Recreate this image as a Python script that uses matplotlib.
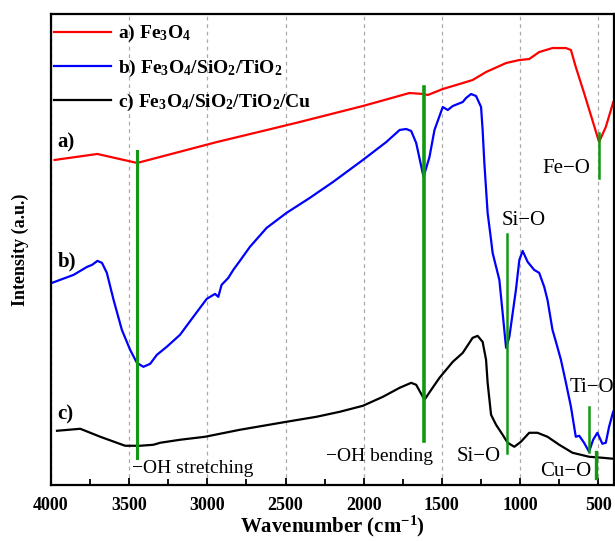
import numpy as np
import matplotlib
matplotlib.use('Agg')
import matplotlib.pyplot as plt

plt.rcParams['font.family'] = ['Liberation Serif', 'DejaVu Serif']
plt.rcParams['mathtext.fontset'] = 'custom'
plt.rcParams['mathtext.rm'] = 'Liberation Serif:bold'
plt.rcParams['mathtext.bf'] = 'Liberation Serif:bold'
plt.rcParams['mathtext.it'] = 'Liberation Serif:bold'
plt.rcParams['mathtext.default'] = 'bf'

# a) Fe3O4
wn_a = [3977, 3704, 3449, 2938, 2619, 2409, 2005, 1707, 1617, 1590, 1494, 1387, 1303, 1217,
        1089, 1004, 941, 877, 792, 706, 674, 643, 590, 537, 494, 451, 403]
int_a = [325, 331, 322, 343, 355, 363, 379, 392, 391, 390, 396, 401, 405, 413,
         422, 425, 426, 433, 437, 437, 435, 418, 392, 365, 343, 358, 383]

# b) Fe3O4/SiO2/TiO2
wn_b = [3994, 3856, 3770, 3738, 3703, 3674, 3643, 3600, 3547, 3494, 3451, 3409, 3366, 3323,
        3260, 3175, 3090, 3004, 2951, 2930, 2909, 2866, 2834, 2792, 2728, 2621, 2494, 2345,
        2196, 2005, 1855, 1770, 1728, 1696, 1664, 1617, 1579, 1547, 1494, 1462, 1430, 1366,
        1345, 1313, 1281, 1249, 1239, 1228, 1207, 1185, 1175, 1132, 1111, 1089, 1068, 1026,
        1004, 983, 951, 909, 877, 845, 824, 792, 770, 738, 706, 674, 643, 621, 590, 558,
        532, 505, 473, 451, 430, 404]
int_b = [202, 210, 218, 220, 224, 222, 212, 185, 155, 135, 122, 118, 121, 130,
         138, 150, 168, 186, 191, 188, 200, 207, 215, 224, 238, 257, 272, 287,
         303, 325, 343, 355, 356, 354, 342, 308, 328, 355, 378, 375, 379, 383,
         387, 391, 389, 378, 355, 322, 272, 245, 232, 205, 172, 137, 148, 195,
         225, 234, 223, 215, 212, 198, 185, 155, 143, 125, 102, 78, 48, 49, 42, 33,
         45, 52, 41, 42, 58, 73]

# c) Fe3O4/SiO2/TiO2/Cu
wn_c = [3962, 3813, 3685, 3526, 3430, 3345, 3302, 3175, 3015, 2792, 2494, 2302, 2153, 2005,
        1877, 1770, 1696, 1664, 1611, 1568, 1515, 1430, 1366, 1303, 1271, 1239, 1217, 1207,
        1185, 1153, 1111, 1079, 1036, 994, 941, 888, 824, 749, 664, 558, 473, 404]
int_c = [54, 56, 48, 39, 39, 40, 42, 45, 48, 55, 63, 68, 73, 79,
         88, 97, 102, 100, 85, 95, 107, 123, 132, 147, 149, 143, 125, 102,
         70, 60, 50, 42, 38, 43, 52, 52, 48, 40, 32, 28, 27, 26]

# green marker lines: position, y from, y to, width
mark_pos = [3451, 1617, 1083, 494, 556, 512]
mark_top = [334, 398, 251, 352, 78, 33]
mark_bot = [27, 44, 32, 307, 33, 7]
mark_lw = [2.2, 2.6, 1.8, 1.8, 1.8, 2.4]

fig = plt.figure(figsize=(6.15, 5.41), dpi=100)
ax = fig.add_axes([0.083, 0.104, 0.915, 0.870])

ax.plot(wn_a, int_a, color='#ff0000', lw=1.6, label=r'a) Fe$_3$O$_4$')
ax.plot(wn_b, int_b, color='#0000ff', lw=1.6, label=r'b) Fe$_3$O$_4$/SiO$_2$/TiO$_2$')
ax.plot(wn_c, int_c, color='black', lw=1.6, label=r'c) Fe$_3$O$_4$/SiO$_2$/TiO$_2$/Cu')

for p, t, b, w in zip(mark_pos, mark_top, mark_bot, mark_lw):
    ax.plot([p, p], [b, t], color='#119911', lw=w, zorder=3)

ax.set_xlim(4000, 400)
ax.set_ylim(0, 471)
ax.set_xticks([4000, 3500, 3000, 2500, 2000, 1500, 1000, 500])
ax.set_xticks([3750, 3250, 2750, 2250, 1750, 1250, 750], minor=True)
ax.set_yticks([])
ax.tick_params(axis='x', which='major', direction='in', length=5, width=1.3, pad=9)
ax.tick_params(axis='x', which='minor', direction='in', length=4, width=1.3)
for lbl in ax.get_xticklabels():
    lbl.set_fontsize(13)
    lbl.set_fontweight('bold')
for s in ax.spines.values():
    s.set_linewidth(1.6)
ax.grid(axis='x', which='major', color='#aaaaaa', linestyle=(0, (3, 3)), lw=0.9)

ax.set_xlabel(r'Wavenumber (cm$^{-1}$)', fontsize=15, fontweight='bold', labelpad=0)
ax.set_ylabel('Intensity (a.u.)', fontsize=13, fontweight='bold', labelpad=16)

ax.legend(loc='upper left', bbox_to_anchor=(-0.008, 0.997), frameon=False,
          prop={'size': 14, 'weight': 'bold'}, handlelength=2.9, handletextpad=0.35,
          labelspacing=0.68, borderaxespad=0)

ax.text(3960, 342, 'a)', fontsize=15, fontweight='bold', va='center')
ax.text(3960, 223, 'b)', fontsize=15, fontweight='bold', va='center')
ax.text(3960, 70, 'c)', fontsize=15, fontweight='bold', va='center')

ax.text(706, 316, 'Fe\u2212O', fontsize=15, ha='center', va='center')
ax.text(974, 264, 'Si\u2212O', fontsize=15, ha='center', va='center')
ax.text(685, 97, 'Ti\u2212O', fontsize=15, ha='left', va='center', clip_on=False)
ax.text(872, 13, 'Cu\u2212O', fontsize=15, ha='left', va='center')
ax.text(1408, 28, 'Si\u2212O', fontsize=15, ha='left', va='center')
ax.text(2238, 28, '\u2212OH bending', fontsize=14, ha='left', va='center')
ax.text(3481, 16, '\u2212OH stretching', fontsize=14, ha='left', va='center')

fig.savefig('out.png', dpi=100)
